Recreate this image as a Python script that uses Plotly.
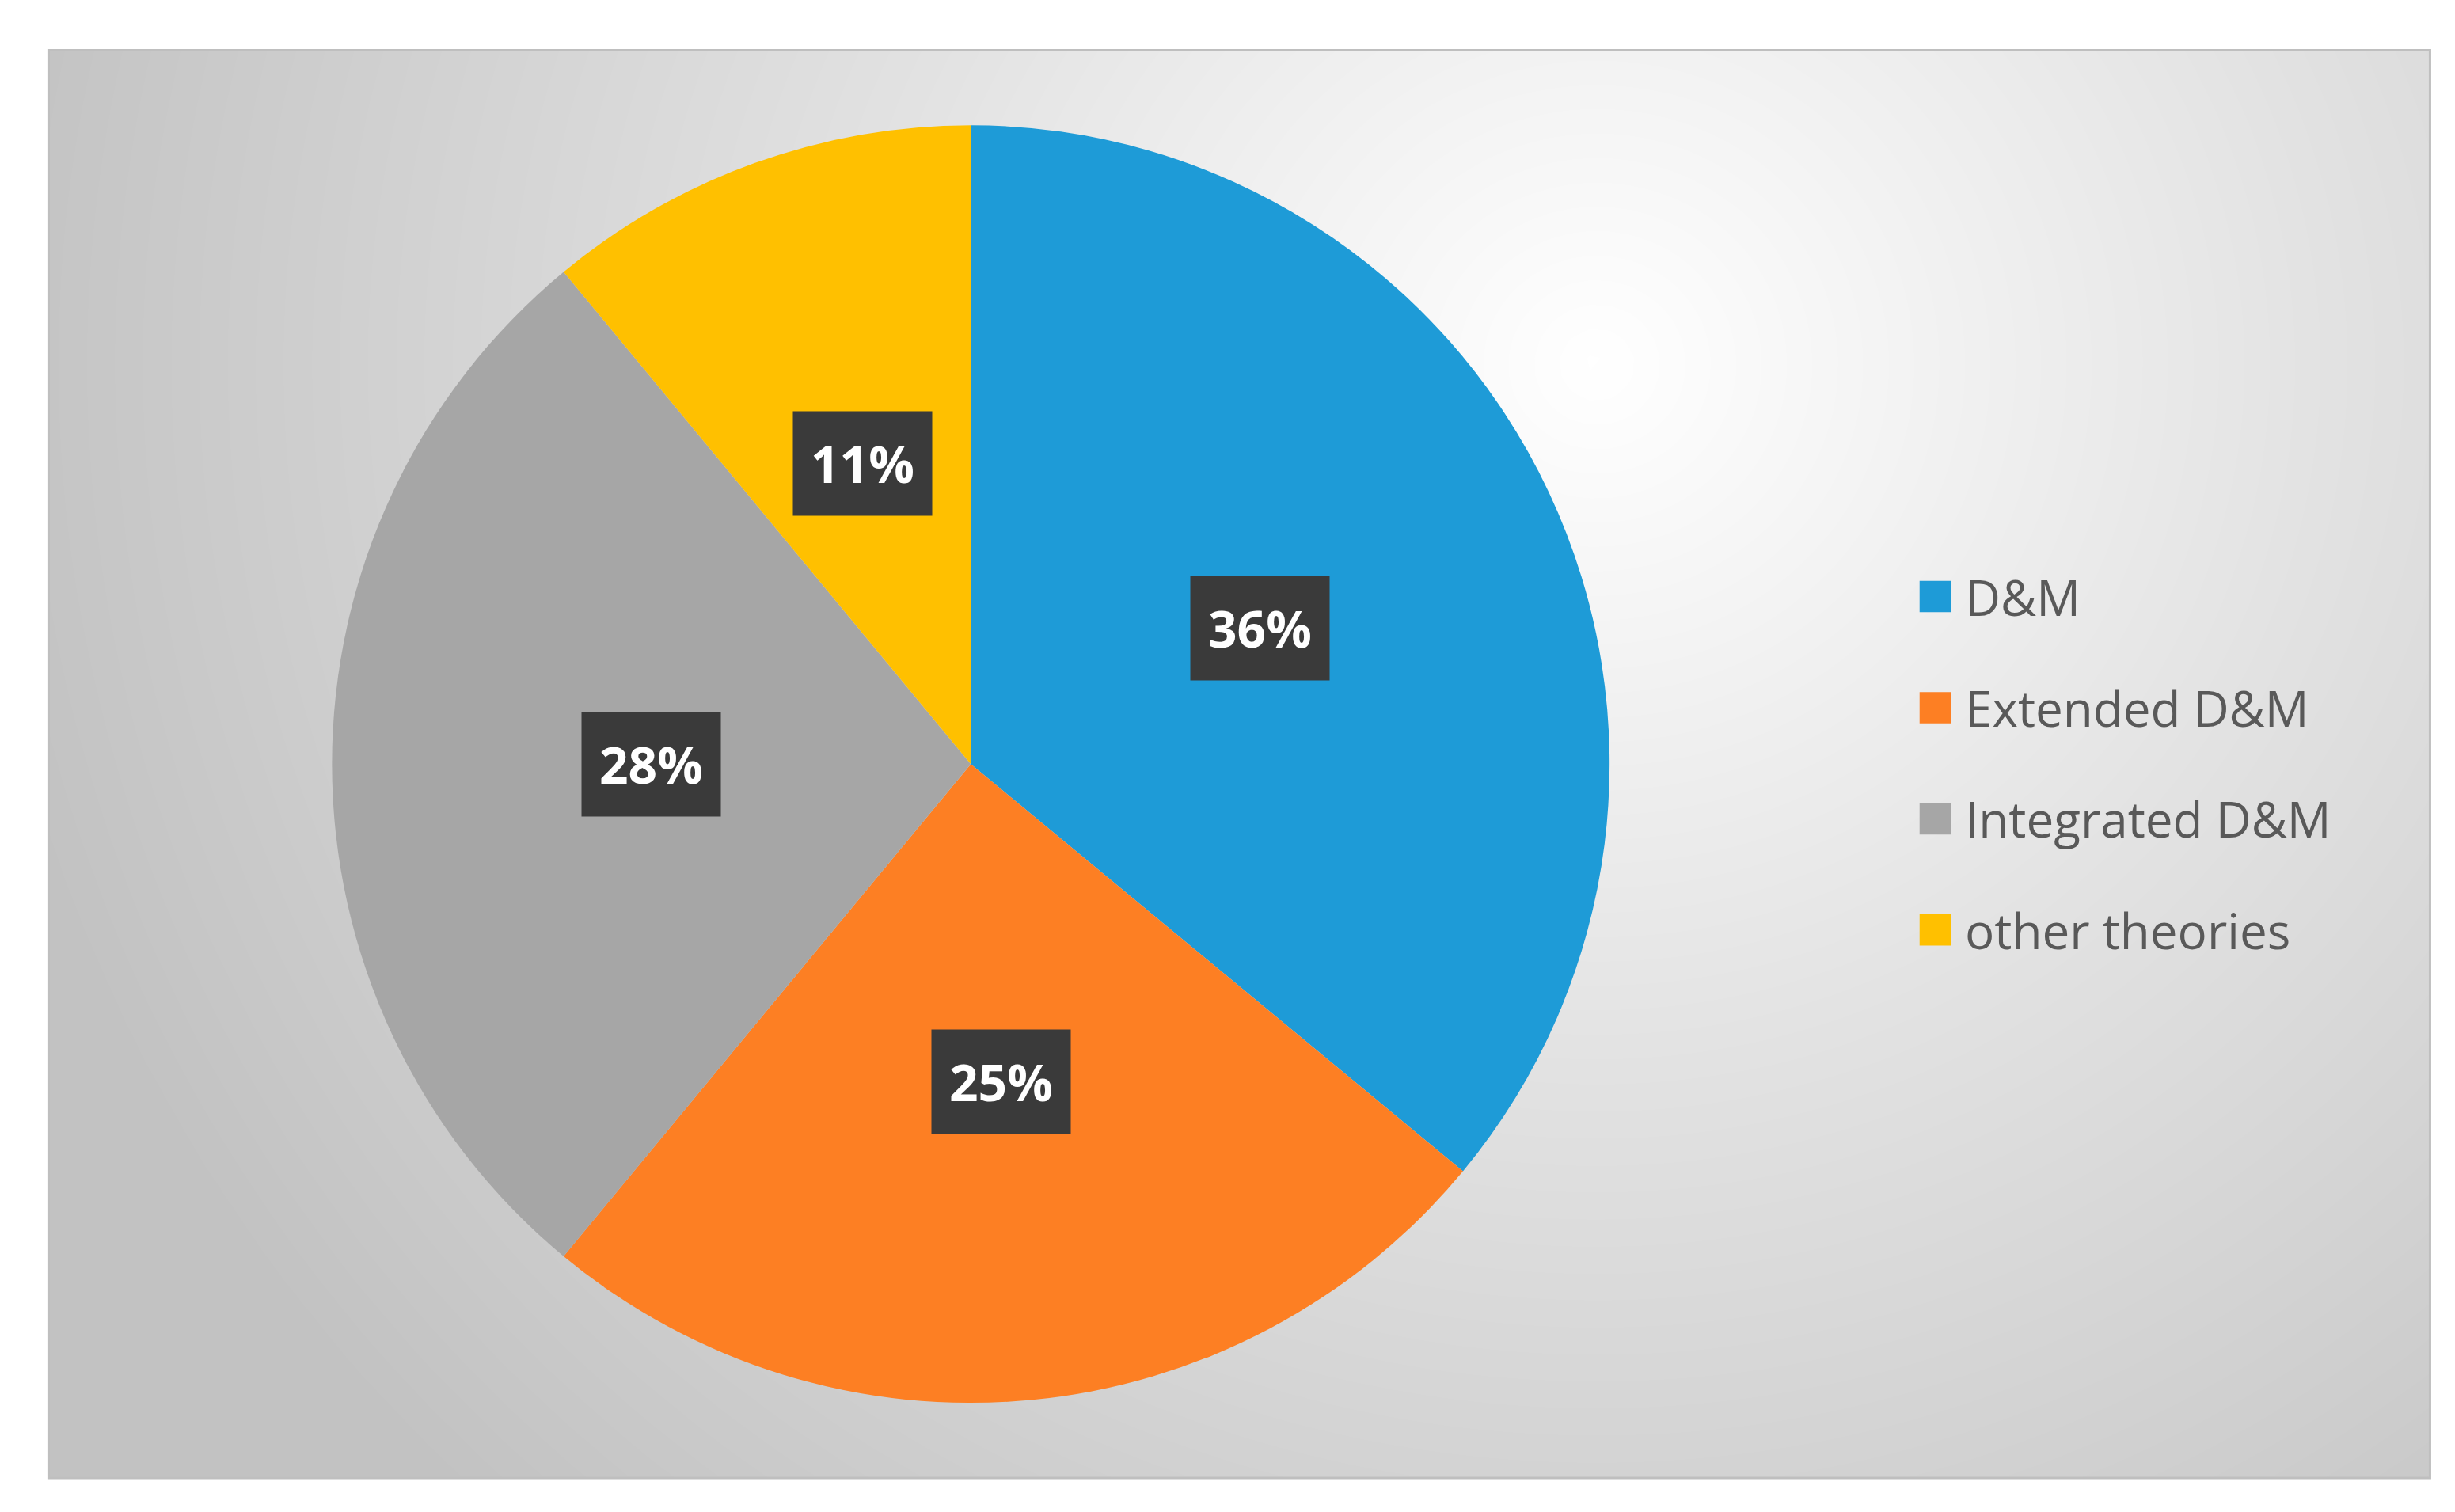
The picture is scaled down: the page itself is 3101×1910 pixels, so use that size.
import numpy as np
import plotly.graph_objects as go

labels = ["D&M", "Extended D&M", "Integrated D&M", "other theories"]
values = [36, 25, 28, 11]
colors = ["#1e9bd7", "#fd7f23", "#a6a6a6", "#ffc000"]

W, H = 3101, 1910
S = W / 1568.0
cx, cy, R = 616 * S, 484 * S, 408 * S
dom_x = [(cx - R) / W, (cx + R) / W]
dom_y = [1 - (cy + R) / H, 1 - (cy - R) / H]

gx = np.linspace(0, 1, 120)
gy = np.linspace(0, 1, 80)
X, Y = np.meshgrid(gx, gy)
D = np.sqrt(((X - 0.65) * 1.6) ** 2 + (Y - 0.78) ** 2)
Z = np.clip(D / 1.1, 0, 1)

fig = go.Figure()
fig.add_trace(go.Heatmap(x=gx, y=gy, z=Z, showscale=False, hoverinfo="skip",
                         colorscale=[[0, "#ffffff"], [0.45, "#e2e2e2"], [1, "#c2c2c2"]],
                         zmin=0, zmax=1, zsmooth="best"))
fig.add_trace(go.Pie(labels=labels, values=values, sort=False, direction="clockwise",
                     rotation=0, marker=dict(colors=colors, line=dict(width=0)),
                     textinfo="none", domain=dict(x=dom_x, y=dom_y), showlegend=False))

total = sum(values)
cum = 0
for v in values:
    mid = (cum + v / 2) / total * 2 * np.pi
    cum += v
    px = cx + 0.5 * R * np.sin(mid)
    py = cy - 0.5 * R * np.cos(mid)
    fig.add_annotation(x=px / W, y=1 - py / H, xref="paper", yref="paper",
                       xanchor="center", yanchor="middle",
                       text=f"<b>{round(v / total * 100)}%</b>", showarrow=False,
                       font=dict(family="Open Sans", size=64, color="white"),
                       bgcolor="#3a3a3a", borderpad=22)

# legend drawn manually
fig.add_shape(type="rect", xref="paper", yref="paper",
              x0=1202 * S / W, x1=1520 * S / W, y0=1 - 627 * S / H, y1=1 - 343 * S / H,
              fillcolor="rgba(232,232,232,0.85)", line=dict(width=0), layer="below")
for i, (lab, col) in enumerate(zip(labels, colors)):
    yc = (377 + 71 * i) * S
    fig.add_shape(type="rect", xref="paper", yref="paper",
                  x0=1222 * S / W, x1=1242 * S / W,
                  y0=1 - (yc + 10 * S) / H, y1=1 - (yc - 10 * S) / H,
                  fillcolor=col, line=dict(width=0))
    fig.add_annotation(x=1250 * S / W, y=1 - yc / H, xref="paper", yref="paper",
                       xanchor="left", yanchor="middle", text=lab, showarrow=False,
                       font=dict(family="Open Sans", size=62, color="#595959"))

fig.add_shape(type="rect", xref="paper", yref="paper",
              x0=27 * S / W, x1=1548 * S / W, y0=1 - 940 * S / H, y1=1 - 28 * S / H,
              line=dict(color="#bfbfbf", width=3), layer="above")

fig.update_layout(
    width=W, height=H, margin=dict(l=0, r=0, t=0, b=0),
    paper_bgcolor="white", plot_bgcolor="white",
    xaxis=dict(domain=[27 * S / W, 1548 * S / W], visible=False, range=[0, 1]),
    yaxis=dict(domain=[1 - 940 * S / H, 1 - 28 * S / H], visible=False, range=[0, 1]),
    showlegend=False,
)
fig.write_html("out.html")
